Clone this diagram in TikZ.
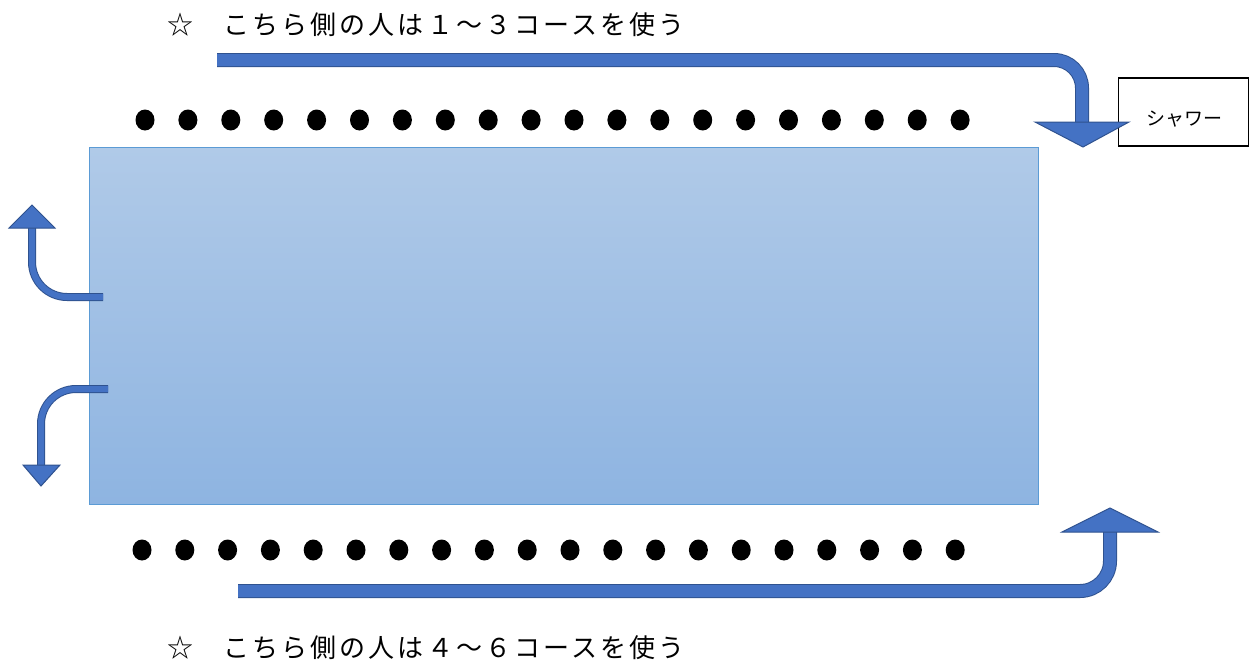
\documentclass[tikz,border=0pt]{standalone}
\usepackage{fontspec}
\setmainfont{Noto Sans CJK JP}
\newfontfamily\jpfont[LetterSpace=12]{Noto Sans CJK JP}
\usetikzlibrary{calc}
\definecolor{arrowfill}{HTML}{4472C4}
\definecolor{arrowline}{HTML}{2F528F}
\definecolor{pooltop}{HTML}{B0CAE8}
\definecolor{poolbot}{HTML}{8EB4E1}
\definecolor{poolline}{HTML}{5B9BD5}
\tikzset{
  bigshaft/.style={draw=arrowline, line width=1pt, double=arrowfill, double distance=12pt, rounded corners=#1},
  smallshaft/.style={draw=arrowline, line width=1pt, double=arrowfill, double distance=6pt, rounded corners=#1},
  arrowhead/.style={fill=arrowfill, draw=arrowline, line width=1pt, line join=miter},
  caption/.style={font=\jpfont\fontsize{26}{30}\selectfont, inner sep=0pt, anchor=west},
  starmark/.style={font=\fontsize{26}{30}\selectfont, inner sep=0pt},
  dotmark/.style={fill=black}
}
\begin{document}
\begin{tikzpicture}[x=1pt,y=-1pt]
\useasboundingbox (0,0) rectangle (1250,664);
% pool
\node[draw=poolline, line width=0.8pt, top color=pooltop, bottom color=poolbot,
  minimum width=949pt, minimum height=357pt, inner sep=0pt, anchor=north west] (pool) at (89,147) {};
% texts
\node[starmark] (star1) at (180,25) {☆};
\node[caption] (text1) at (223,25) {こちら側の人は１～３コースを使う};
\node[starmark] (star2) at (180,648) {☆};
\node[caption] (text2) at (223,648) {こちら側の人は４～６コースを使う};
% shower box
\node[draw=black, line width=1.5pt, minimum width=130pt, minimum height=68pt, inner sep=0pt] (shower) at (1183.5,112) {};
\node[font=\fontsize{19}{22}\selectfont, inner sep=0pt] (showertext) at (1184,119) {シャワー};
% dots
\foreach \i in {0,...,19} {
  \fill[dotmark] (145+\i*42.9,120) ellipse [x radius=9.5, y radius=10.5];
  \fill[dotmark] (142+\i*42.8,550) ellipse [x radius=9.5, y radius=10.5];
}
% top arrow
\coordinate (ta0) at (217,60);
\coordinate (ta1) at (1082,60);
\coordinate (ta2) at (1082,123);
\draw[bigshaft=28pt] (ta0) -- (ta1) -- (ta2);
\draw[arrowhead] (1035,122) -- (1129,122) -- (1083,147) -- cycle;
% bottom arrow
\coordinate (ba0) at (238,591);
\coordinate (ba1) at (1110,591);
\coordinate (ba2) at (1110,531);
\draw[bigshaft=30pt] (ba0) -- (ba1) -- (ba2);
\draw[arrowhead] (1062,532) -- (1158,532) -- (1110,508) -- cycle;
% left upper arrow
\coordinate (la0) at (103,297);
\coordinate (la1) at (32,297);
\coordinate (la2) at (32,227);
\draw[smallshaft=35pt] (la0) -- (la1) -- (la2);
\draw[arrowhead] (9,228) -- (55,228) -- (32,205) -- cycle;
% left lower arrow
\coordinate (lb0) at (108,389);
\coordinate (lb1) at (41,389);
\coordinate (lb2) at (41,466);
\draw[smallshaft=35pt] (lb0) -- (lb1) -- (lb2);
\draw[arrowhead] (23,465) -- (60,465) -- (41,486) -- cycle;
\end{tikzpicture}
\end{document}
